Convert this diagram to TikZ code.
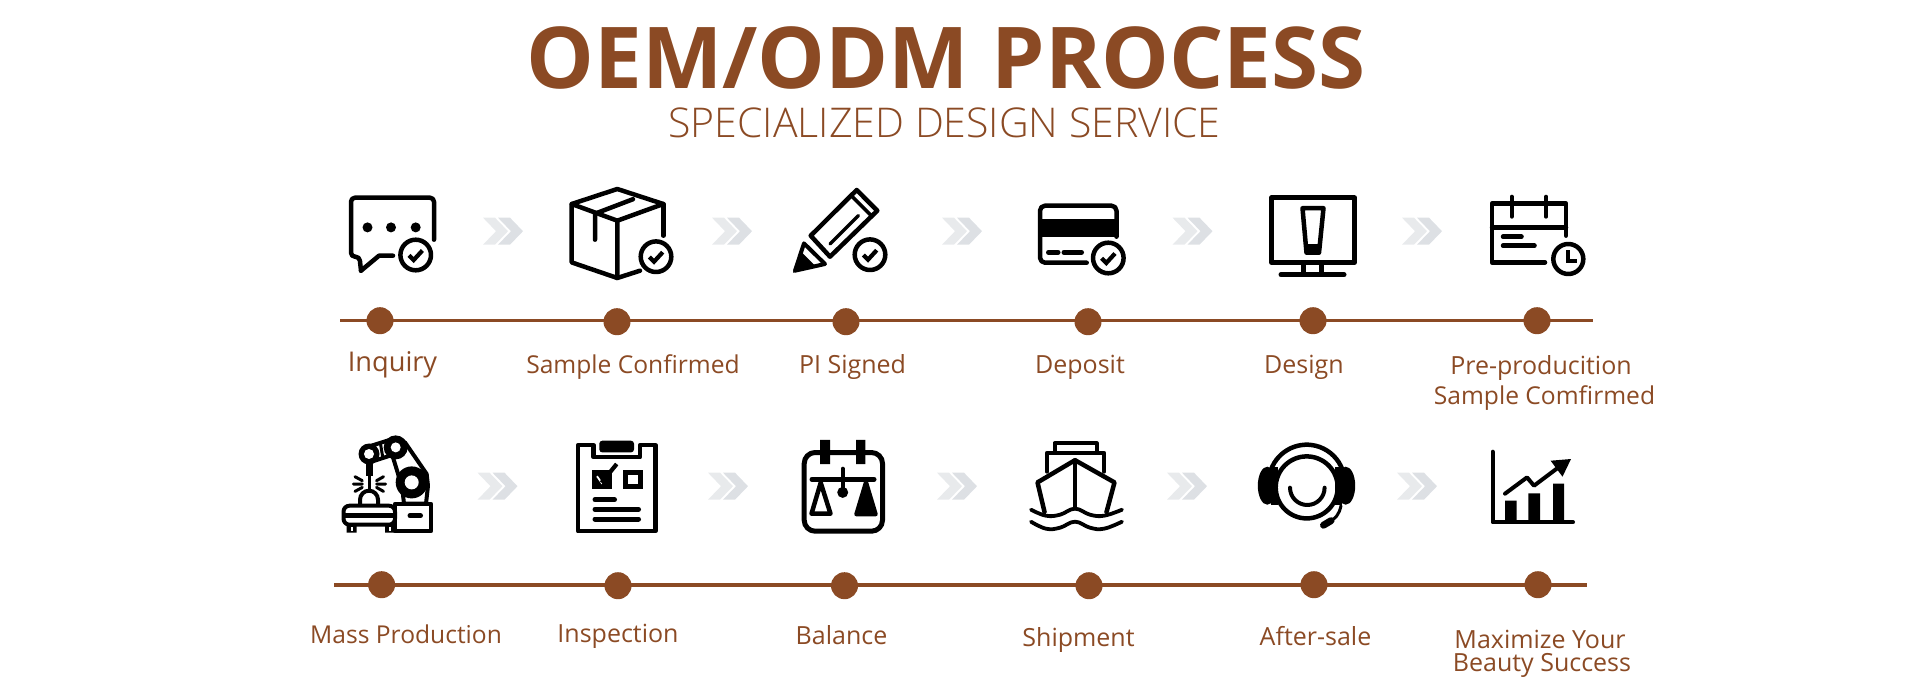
\documentclass[tikz,border=0pt]{standalone}
\usepackage{fontspec}
\setmainfont{Open Sans}
\newfontfamily\lightfam{Open Sans Light}
\definecolor{brn}{HTML}{8B4A24}
\definecolor{chevA}{HTML}{E8EAEC}
\definecolor{chevB}{HTML}{DDE0E4}
\tikzset{
  ic/.style={draw=black,line width=4.5pt,line cap=round,line join=round},
  thinic/.style={draw=black,line width=3.5pt,line cap=round,line join=round},
  flowline/.style={draw=brn,line width=3.6pt},
  dot/.style={circle,fill=brn,draw=none,minimum size=27pt,inner sep=0pt},
  lbl/.style={anchor=base,inner sep=0pt,text=brn,font=\fontsize{25}{25}\selectfont},
  lbln/.style={anchor=base,inner sep=0pt,text=brn,font=\fontsize{24.6}{25}\selectfont},
}
\newcommand{\ckcirc}[2]{%
  \draw[ic,fill=white] (#1,#2) circle (15.3);
  \draw[ic,line width=4.2pt,line cap=butt,line join=miter] ($(#1,#2)+(-6.7,0.3)$) -- ($(#1,#2)+(-2,5)$) -- ($(#1,#2)+(6.7,-4.5)$);
}
\newcommand{\chevpair}[2]{%
  \fill[chevA] (#1,#2) -- ++(12,0) -- ++(13,13.5) -- ++(-13,13.5) -- ++(-12,0) -- ++(13,-13.5) -- cycle;
  \fill[chevB] ($(#1,#2)+(15,0)$) -- ++(12,0) -- ++(13,13.5) -- ++(-13,13.5) -- ++(-12,0) -- ++(13,-13.5) -- cycle;
}
\usetikzlibrary{calc}
\begin{document}
\begin{tikzpicture}[x=1pt,y=-1pt]
\useasboundingbox (0,0) rectangle (1920,700);
\begin{scope}[yshift=-0.7pt]
% titles
\node[anchor=base,inner sep=0pt,text=brn,font=\fontsize{85.3}{85.3}\selectfont\bfseries] (title) at (946,88.2) {OEM/ODM PROCESS};
\node[anchor=base,inner sep=0pt,text=brn,font=\fontsize{41}{41}\selectfont\lightfam] (subtitle) at (944.5,136.5) {SPECIALIZED DESIGN SERVICE};
% timelines
\coordinate (r1s) at (340,320); \coordinate (r1e) at (1593,320);
\coordinate (r2s) at (334,584); \coordinate (r2e) at (1587,584);
\draw[flowline] (r1s) -- (r1e);
\draw[flowline] (r2s) -- (r2e);
\node[dot] (a1) at (380,320) {};
\node[dot] (a2) at (617,321) {};
\node[dot] (a3) at (846,321) {};
\node[dot] (a4) at (1088,321) {};
\node[dot] (a5) at (1313,320) {};
\node[dot] (a6) at (1537,320) {};
\node[dot] (b1) at (381.6,584) {};
\node[dot] (b2) at (618,585) {};
\node[dot] (b3) at (844.5,585) {};
\node[dot] (b4) at (1089,585) {};
\node[dot] (b5) at (1314,584) {};
\node[dot] (b6) at (1538,584) {};
% labels
\node[lbl,font=\fontsize{27.2}{27}\selectfont] (t1) at (392.5,370.5) {Inquiry};
\node[lbln] (t2) at (633,372.7) {Sample Confirmed};
\node[lbl] (t3) at (852.5,372.7) {PI Signed};
\node[lbl] (t4) at (1080,372.7) {Deposit};
\node[lbl] (t5) at (1304,373.3) {Design};
\node[lbl] (t6a) at (1541,373.7) {Pre-producition};
\node[lbln] (t6b) at (1544.5,403.7) {Sample Comfirmed};
\node[lbln] (u1) at (406,642.7) {Mass Production};
\node[lbl] (u2) at (618,642) {Inspection};
\node[lbl] (u3) at (841.5,643.7) {Balance};
\node[lbl] (u4) at (1078.5,646) {Shipment};
\node[lbl] (u5) at (1315.5,645) {After-sale};
\node[lbl] (u6a) at (1540,647.7) {Maximize Your};
\node[lbl] (u6b) at (1542,671) {Beauty Success};
% chevrons
\chevpair{483}{217}\chevpair{712}{217}\chevpair{942}{217}\chevpair{1172.5}{217}\chevpair{1402}{217}
\chevpair{477.5}{472}\chevpair{708}{472}\chevpair{937}{472}\chevpair{1167}{472}\chevpair{1397}{472}
% --- chat
\draw[ic,rounded corners=4pt] (434,239) -- (434,197) -- (351,197) -- (351,256) -- (359.5,256) -- (361,270);
\draw[ic] (361,270) -- (379,255) -- (393,255);
\fill (367.5,226.7) circle (5) (391,226.7) circle (5) (415.7,226.7) circle (5);
\ckcirc{415.7}{254.3}
% --- box
\draw[ic] (617.3,220) -- (571.7,203.3) -- (617.3,188.3) -- (663.3,203.3) -- cycle;
\draw[ic] (617.3,220) -- (617.3,277.3) -- (571.7,261.7) -- (571.7,203.3);
\draw[ic] (663.3,203.3) -- (663.3,235);
\draw[ic] (617.3,277.3) -- (640,270);
\draw[ic] (595,239) -- (595,213) -- (633,198.5);
\ckcirc{656}{256}
% --- pencil
\draw[ic] (856.7,189.3) -- (877.3,210) -- (830,256) -- (810.7,235) -- cycle;
\draw[thinic] (851.7,195.5) -- (870.7,214.3);
\draw[thinic] (830,243.3) -- (858.3,215);
\draw[ic,line width=4pt] (804,242.7) -- (795,270) -- (825,263.3) -- cycle;
\fill (793,272) -- (800,250) -- (816,266) -- cycle;
\ckcirc{870}{254}
% --- card
\draw[ic,rounded corners=5pt] (1116.5,236) -- (1116.5,205) -- (1040,205) -- (1040,262) -- (1086.7,262);
\fill (1040,218.3) rectangle (1118.5,236.7);
\draw[ic,line width=5pt] (1048.5,251.7) -- (1058,251.7) (1064,251.7) -- (1081.5,251.7);
\ckcirc{1108.3}{257.3}
% --- monitor
\draw[ic] (1271.5,197) rectangle (1354.5,261.7);
\draw[ic] (1303.3,261.7) -- (1303.3,274) (1321.7,261.7) -- (1321.7,274);
\draw[ic,line width=5pt] (1281,274) -- (1344,274);
\draw[ic] (1302.5,207.5) -- (1323.5,207.5) -- (1319,252) -- (1306.5,252) -- cycle;
\fill (1305,243.5) -- (1320,243.5) -- (1319.5,253) -- (1306,253) -- cycle;
% --- calendar
\draw[ic] (1566,235) -- (1566,203) -- (1492,203) -- (1492,261.7) -- (1545,261.7);
\draw[ic] (1492,226.7) -- (1566,226.7);
\draw[ic,line width=4pt] (1511.7,196) -- (1511.7,216) (1546,196) -- (1546,216);
\draw[ic] (1503,236) -- (1521.5,236) (1503,245) -- (1534.5,245);
\draw[ic,fill=white] (1568.3,258.3) circle (15);
\draw[ic,line width=4.2pt,line cap=butt,line join=miter] (1568.3,249.5) -- (1568.3,260) -- (1577,260);
% --- robot
\draw[ic,fill=white,line width=4pt] (405,441.7) -- (426.7,473.3) -- (428,485) -- (426,503) -- (404,503) -- (402.7,491.7) -- (398,473) -- (393,456.7) -- cycle;
\draw[ic,fill=white,line width=4pt] (365,447) -- (392,438.5) -- (390,455) -- (373,460.5) -- cycle;
\draw[black,line width=3pt] (380.5,443) -- (383,458);
\fill (369,453.3) circle (10.5) (395.7,446.7) circle (12) (411.7,481.7) circle (16);
\fill[white] (369,453.3) circle (5) (395.7,446.7) circle (5) (411.7,481.7) circle (7);
\fill (366,461) rectangle (373.3,475);
\draw[black,line width=3pt] (369.6,475) -- (369.6,490);
\draw[thinic,line width=3pt] (355,476) -- (362.3,480) (353.3,483.3) -- (362.3,483.3) (355,490.7) -- (362.3,486.7);
\draw[thinic,line width=3pt] (376.5,480) -- (383.5,476) (376.5,483.3) -- (385.5,483.3) (376.5,486.7) -- (383.5,490.7);
\draw[ic,line width=4pt,fill=white] (360,504) -- (360,499) arc (180:360:9) -- (378,504);
\draw[ic,line width=4pt] (395,503) -- (431,503) -- (431,530.5) -- (395,530.5);
\draw[ic,line width=5pt] (410,515) -- (420.5,515);
\fill (346.7,522) rectangle (356.7,532) (385,522) rectangle (396,532);
\fill[white] (350.5,526.5) rectangle (353,530);
\fill[white] (388.5,526.5) rectangle (391,530);
\draw[ic,line width=4pt,fill=white,rounded corners=6pt] (343.5,505) rectangle (395,524);
\draw[black,line width=5pt] (343.5,514.5) -- (395,514.5);
\draw[black,line width=4pt] (395,503) -- (395,531);
% --- clipboard
\draw[ic] (593.5,444.5) -- (578,444.5) -- (578,530.5) -- (655.5,530.5) -- (655.5,444.5) -- (640,444.5) -- (640,456.5) -- (593.5,456.5) -- cycle;
\fill[rounded corners=3pt] (599.3,440) rectangle (634,451.7);
\fill (591.7,469.3) rectangle (611.7,488.3);
\draw[white,line width=1.8pt] (597,475.5) -- (601.5,482) -- (606,475.5);
\draw[black,line width=4.2pt] (601.5,482) -- (616.7,463.3);
\draw[black,line width=5pt] (625.8,471.8) rectangle (640.2,485.8);
\draw[ic,line width=5pt] (595,499) -- (614.5,499) (595,508.7) -- (638.5,508.7) (595,518.3) -- (638.5,518.3);
% --- balance
\draw[ic,line width=5pt,rounded corners=11pt] (804.2,451.8) rectangle (882.5,530.5);
\fill (820,439.3) rectangle (830,463.3) (856,439.3) rectangle (865.3,463.3);
\draw[ic,line width=5pt] (812,478.7) -- (874,478.7);
\draw[ic,line width=4pt] (842.7,468) -- (842.7,490);
\fill (842.7,491.7) circle (5.5);
\draw[ic,line width=4.5pt] (820.7,482) -- (811.5,513) -- (830.5,513) -- cycle;
\draw[ic,line width=4.5pt,fill=black] (866,482) -- (856.5,513.5) -- (875.5,513.5) -- cycle;
% --- ship
\draw[ic,line width=4pt] (1054.5,451.7) -- (1054.5,442.5) -- (1096.5,442.5) -- (1096.5,451.7);
\draw[ic,line width=4pt] (1047,471) -- (1047,452) -- (1104,452) -- (1104,471);
\draw[ic] (1045,513.3) -- (1037.5,481.7) -- (1075,459.5) -- (1114.5,481.7) -- (1106,513.3);
\draw[ic] (1075,459.5) -- (1075,508);
\fill[white] (1046,512) -- (1075,507) -- (1105,512) -- (1105,518) -- (1046,518) -- cycle;
\draw[ic,line width=3.8pt] plot[smooth,tension=0.7] coordinates {(1031,509) (1046,515) (1060,514) (1075,508) (1090,514) (1104,515) (1122,509)};
\draw[ic,line width=3.8pt] plot[smooth,tension=0.7] coordinates {(1031,521) (1046,528) (1060,527) (1075,521) (1090,527) (1104,528) (1122,521)};
% --- headset
\draw[ic] (1306.7,486.7) circle (31);
\draw[ic] (1306.7,482) ++(200:38) arc (200:340:38);
\fill (1267.3,485) ellipse (9.5 and 19);
\fill (1345.7,485) ellipse (9.5 and 19);
\fill (1271,466) rectangle (1278,504);
\fill (1335,466) rectangle (1342,504);
\draw[ic,line width=4pt] (1290,487) arc (180:0:17.3);
\draw[black,line width=3pt,line cap=round] (1341,505) .. controls (1339,514) and (1336,518) .. (1327,522);
\draw[black,line width=7pt,line cap=round] (1323.5,524.5) -- (1331,520);
% --- chart
\draw[ic,line width=4pt] (1492.5,451) -- (1492.5,521.5) -- (1573,521.5);
\fill (1505,500) rectangle (1516.6,521) (1528.4,492.7) rectangle (1540,521) (1553,483) rectangle (1564,521);
\draw[ic,line width=4pt] (1505,493) -- (1527,476.7) -- (1534,485) -- (1558,467);
\fill (1550.6,460) -- (1571,458.3) -- (1562.5,476) -- cycle;
\end{scope}
\end{tikzpicture}
\end{document}
